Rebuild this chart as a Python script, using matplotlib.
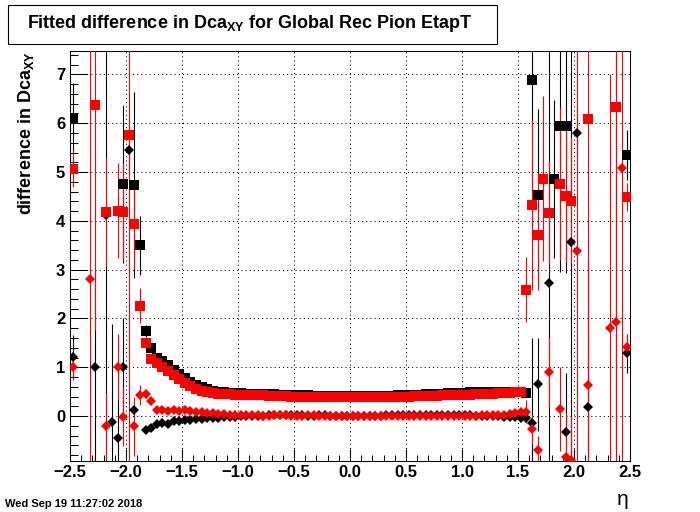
import numpy as np
import matplotlib
matplotlib.use("Agg")
import matplotlib.pyplot as plt
from matplotlib.ticker import MultipleLocator
from matplotlib.patches import Rectangle

nan = np.nan

# ---- histogram binning (100 bins from -2.5 to 2.5) ----
eta_min, eta_max, n_bins = -2.5, 2.5, 100
eta = np.linspace(eta_min, eta_max, n_bins + 1)
eta = 0.5 * (eta[:-1] + eta[1:])

# ---- black squares ----
black_sq = [6.11, nan, nan, nan, nan, nan, nan, nan, nan, 4.76,
            nan, 4.73, 3.50, 1.75, 1.40, 1.20, 1.12, 1.04, 0.95, 0.86,
            0.78, 0.70, 0.64, 0.59, 0.55, 0.52, 0.50, 0.49, 0.48, 0.47,
            0.47, 0.46, 0.46, 0.46, 0.45, 0.45, 0.45, 0.44, 0.44, 0.44,
            0.43, 0.43, 0.43, 0.42, 0.42, 0.42, 0.42, 0.42, 0.42, 0.42,
            0.42, 0.42, 0.42, 0.42, 0.42, 0.42, 0.42, 0.42, 0.43, 0.43,
            0.43, 0.44, 0.44, 0.45, 0.45, 0.46, 0.46, 0.47, 0.47, 0.48,
            0.48, 0.49, 0.49, 0.49, 0.50, 0.50, 0.50, 0.50, 0.50, 0.50,
            0.50, 0.47, 6.89, 4.53, nan, nan, 4.86, 5.95, 5.94, nan,
            nan, nan, nan, nan, nan, nan, nan, nan, nan, 5.35]
black_sq_err = [0.72, 0, 0, 0, 0, 0, 0, 0, 0, 1.62,
                0, 1.90, 0.60, 0.12, 0.06, 0.05, 0.04, 0.04, 0.04, 0.03,
                0.03, 0.03, 0.03, 0.02, 0.02, 0.02, 0.02, 0.02, 0.02, 0.02,
                0.02, 0.02, 0.02, 0.02, 0.02, 0.02, 0.02, 0.02, 0.02, 0.02,
                0.02, 0.02, 0.02, 0.02, 0.02, 0.02, 0.02, 0.02, 0.02, 0.02,
                0.02, 0.02, 0.02, 0.02, 0.02, 0.02, 0.02, 0.02, 0.02, 0.02,
                0.02, 0.02, 0.02, 0.02, 0.02, 0.02, 0.02, 0.02, 0.02, 0.02,
                0.02, 0.02, 0.02, 0.02, 0.02, 0.02, 0.02, 0.02, 0.02, 0.02,
                0.02, 0.05, 3.00, 1.76, 0, 0, 1.62, 3.00, 3.00, 0,
                0, 0, 0, 0, 0, 0, 0, 0, 0, 0.52]

# ---- black diamonds ----
black_di = [1.22, nan, nan, nan, 1.00, nan, 4.13, -0.12, -0.44, 1.00,
            5.45, 0.12, nan, -0.29, -0.24, -0.17, -0.15, -0.17, -0.10, -0.10,
            -0.08, -0.07, -0.06, -0.05, -0.04, -0.03, -0.03, -0.02, -0.01, -0.01,
            0.00, 0.00, 0.01, 0.01, 0.01, 0.02, 0.02, 0.03, 0.02, 0.02,
            0.02, 0.02, 0.01, 0.01, 0.02, 0.02, 0.01, 0.01, 0.01, 0.01,
            0.01, 0.01, 0.01, 0.01, 0.01, 0.01, 0.02, 0.02, 0.02, 0.02,
            0.03, 0.03, 0.02, 0.02, 0.02, 0.02, 0.03, 0.03, 0.02, 0.02,
            0.02, 0.02, 0.01, 0.01, 0.01, 0.00, 0.00, -0.01, -0.01, -0.02,
            -0.03, -0.04, -0.14, 0.65, nan, 2.72, nan, nan, -0.32, 3.57,
            5.81, nan, 0.19, nan, nan, nan, nan, nan, nan, 1.29]
black_di_err = [0.45, 0, 0, 0, 2.00, 0, 6.00, 2.00, 0.80, 1.00,
                0.50, 0.10, 0, 0.05, 0.04, 0.03, 0.03, 0.03, 0.02, 0.02,
                0.02, 0.02, 0.02, 0.02, 0.02, 0.02, 0.02, 0.02, 0.02, 0.02,
                0.02, 0.02, 0.02, 0.02, 0.02, 0.02, 0.02, 0.02, 0.02, 0.02,
                0.02, 0.02, 0.02, 0.02, 0.02, 0.02, 0.02, 0.02, 0.02, 0.02,
                0.02, 0.02, 0.02, 0.02, 0.02, 0.02, 0.02, 0.02, 0.02, 0.02,
                0.02, 0.02, 0.02, 0.02, 0.02, 0.02, 0.02, 0.02, 0.02, 0.02,
                0.02, 0.02, 0.02, 0.02, 0.02, 0.02, 0.02, 0.02, 0.02, 0.02,
                0.02, 0.03, 1.73, 0.95, 0, 6.00, 0, 0, 1.20, 6.00,
                0.50, 0, 3.00, 0, 0, 0, 0, 0, 0, 0.40]

# ---- red squares ----
red_sq = [5.07, nan, nan, nan, 6.37, nan, 4.18, nan, 4.21, 4.19,
          5.76, 3.93, 2.26, 1.49, 1.18, 1.08, 1.00, 0.92, 0.84, 0.76,
          0.68, 0.61, 0.56, 0.52, 0.49, 0.47, 0.46, 0.45, 0.45, 0.44,
          0.44, 0.44, 0.43, 0.43, 0.43, 0.42, 0.42, 0.41, 0.41, 0.40,
          0.40, 0.40, 0.40, 0.39, 0.39, 0.39, 0.39, 0.39, 0.39, 0.39,
          0.39, 0.39, 0.39, 0.39, 0.39, 0.39, 0.39, 0.40, 0.40, 0.40,
          0.40, 0.41, 0.41, 0.42, 0.42, 0.42, 0.43, 0.43, 0.43, 0.44,
          0.44, 0.44, 0.45, 0.45, 0.46, 0.46, 0.47, 0.47, 0.48, 0.49,
          0.50, 2.59, 4.32, 3.72, 4.86, 4.17, nan, 4.76, 4.51, 4.41,
          nan, nan, 6.09, nan, nan, nan, nan, 6.34, nan, 4.49]
red_sq_err = [0.38, 0, 0, 0, 4.60, 0, 1.10, 0, 0.98, 1.00,
              8.00, 0.92, 0.36, 0.10, 0.05, 0.04, 0.04, 0.03, 0.03, 0.02,
              0.02, 0.02, 0.02, 0.02, 0.02, 0.02, 0.02, 0.02, 0.02, 0.02,
              0.02, 0.02, 0.02, 0.02, 0.02, 0.02, 0.02, 0.02, 0.02, 0.02,
              0.02, 0.02, 0.02, 0.02, 0.02, 0.02, 0.02, 0.02, 0.02, 0.02,
              0.02, 0.02, 0.02, 0.02, 0.02, 0.02, 0.02, 0.02, 0.02, 0.02,
              0.02, 0.02, 0.02, 0.02, 0.02, 0.02, 0.02, 0.02, 0.02, 0.02,
              0.02, 0.02, 0.02, 0.02, 0.02, 0.02, 0.02, 0.02, 0.02, 0.02,
              0.02, 0.67, 1.74, 1.13, 1.69, 1.06, 0, 1.56, 1.35, 1.30,
              0, 0, 8.00, 0, 0, 0, 0, 8.00, 0, 0.28]

# ---- red diamonds ----
red_di = [1.00, nan, nan, 2.81, nan, nan, -0.21, nan, 1.00, -0.01,
          nan, -0.21, 0.43, 0.45, 0.31, 0.13, 0.12, 0.10, 0.12, 0.11,
          0.12, 0.10, 0.09, 0.08, 0.07, 0.06, 0.05, 0.04, 0.03, 0.03,
          0.02, 0.02, 0.02, 0.02, 0.01, 0.01, 0.02, 0.02, 0.02, 0.01,
          0.01, 0.01, 0.02, 0.02, 0.01, 0.01, 0.01, 0.01, 0.01, 0.01,
          0.01, 0.01, 0.01, 0.01, 0.01, 0.01, 0.01, 0.01, 0.01, 0.01,
          0.01, 0.01, 0.01, 0.01, 0.01, 0.01, 0.01, 0.01, 0.01, 0.01,
          0.01, 0.01, 0.01, 0.02, 0.02, 0.02, 0.02, 0.03, 0.04, 0.06,
          0.08, 0.09, -0.27, -0.70, nan, 0.90, nan, 0.14, -0.83, -0.90,
          3.38, nan, 0.64, nan, nan, nan, 1.80, 1.92, 5.09, 1.42]
red_di_err = [0.27, 0, 0, 8.00, 0, 0, 0.68, 0, 0.68, 0.60,
              0, 0.60, 0.20, 0.08, 0.05, 0.03, 0.03, 0.03, 0.02, 0.02,
              0.02, 0.02, 0.02, 0.02, 0.02, 0.02, 0.02, 0.02, 0.02, 0.02,
              0.02, 0.02, 0.02, 0.02, 0.02, 0.02, 0.02, 0.02, 0.02, 0.02,
              0.02, 0.02, 0.02, 0.02, 0.02, 0.02, 0.02, 0.02, 0.02, 0.02,
              0.02, 0.02, 0.02, 0.02, 0.02, 0.02, 0.02, 0.02, 0.02, 0.02,
              0.02, 0.02, 0.02, 0.02, 0.02, 0.02, 0.02, 0.02, 0.02, 0.02,
              0.02, 0.02, 0.02, 0.02, 0.02, 0.02, 0.02, 0.02, 0.02, 0.02,
              0.02, 0.23, 0.30, 0.30, 0, 0.72, 0, 0.86, 0.90, 0.90,
              8.00, 0, 1.33, 0, 0, 0, 5.20, 8.00, 8.00, 0.26]

title = r"Fitted difference in Dca$_{XY}$ for Global Rec Pion EtapT"
ylabel = r"difference in Dca$_{XY}$"
xlabel = "\u03b7"
datestamp = "Wed Sep 19 11:27:02 2018"

plt.rcParams['font.family'] = ['Liberation Sans', 'DejaVu Sans']
plt.rcParams['mathtext.default'] = 'regular'

W, H = 700, 512
fig = plt.figure(figsize=(W / 100, H / 100), dpi=100)
fig.patch.set_facecolor('white')
ax = fig.add_axes([70 / W, (H - 461) / H, 560 / W, 410 / H])

series = [
    (black_sq, black_sq_err, 's', 'black', 6.7),
    (black_di, black_di_err, 'D', 'black', 4.8),
    (red_sq, red_sq_err, 's', '#ff0000', 6.7),
    (red_di, red_di_err, 'D', '#ff0000', 4.8),
]
for vals, errs, mk, col, ms in series:
    ax.errorbar(eta, np.array(vals, float), yerr=np.array(errs, float),
                fmt=mk, color=col, ms=ms, mew=0, elinewidth=0.8,
                capsize=0, zorder=3)

ax.set_xlim(-2.5, 2.5)
ax.set_ylim(-0.92, 7.48)
ax.xaxis.set_major_locator(MultipleLocator(0.5))
ax.xaxis.set_minor_locator(MultipleLocator(0.1))
ax.yaxis.set_major_locator(MultipleLocator(1))
ax.yaxis.set_minor_locator(MultipleLocator(0.2))
ax.set_axisbelow(True)
ax.grid(True, which='major', color='black', linestyle=(0, (1, 3)), linewidth=0.75)

ax.tick_params(which='both', direction='in', top=False, right=False,
               width=0.75, color='black')
ax.tick_params(axis='x', which='major', length=8.9, pad=3, labelsize=12)
ax.tick_params(axis='x', which='minor', length=4.4)
ax.tick_params(axis='y', which='major', length=12, pad=3.5, labelsize=12)
ax.tick_params(axis='y', which='minor', length=6)
for lab in ax.get_xticklabels() + ax.get_yticklabels():
    lab.set_fontweight('bold')
for sp in ax.spines.values():
    sp.set_linewidth(0.75)
    sp.set_color('black')

# title box
fig.patches.append(Rectangle((8 / W, 1 - 44 / H), 489 / W, 39 / H,
                             transform=fig.transFigure, fill=False,
                             edgecolor='black', linewidth=0.8))
fig.text(250 / W, 1 - 28 / H, title, ha='center', va='baseline',
         fontsize=13, fontweight='bold')

# axis titles
fig.text(31 / W, 1 - 51 / H, ylabel, rotation=90, rotation_mode='anchor',
         ha='right', va='baseline', fontsize=13, fontweight='bold')
fig.text(629 / W, 1 - 505 / H, xlabel, ha='right', va='baseline', fontsize=15)

fig.text(5 / W, 1 - 507 / H, datestamp, ha='left', va='baseline',
         fontsize=8, fontweight='bold')

fig.savefig('out.png', dpi=100, facecolor='white')
